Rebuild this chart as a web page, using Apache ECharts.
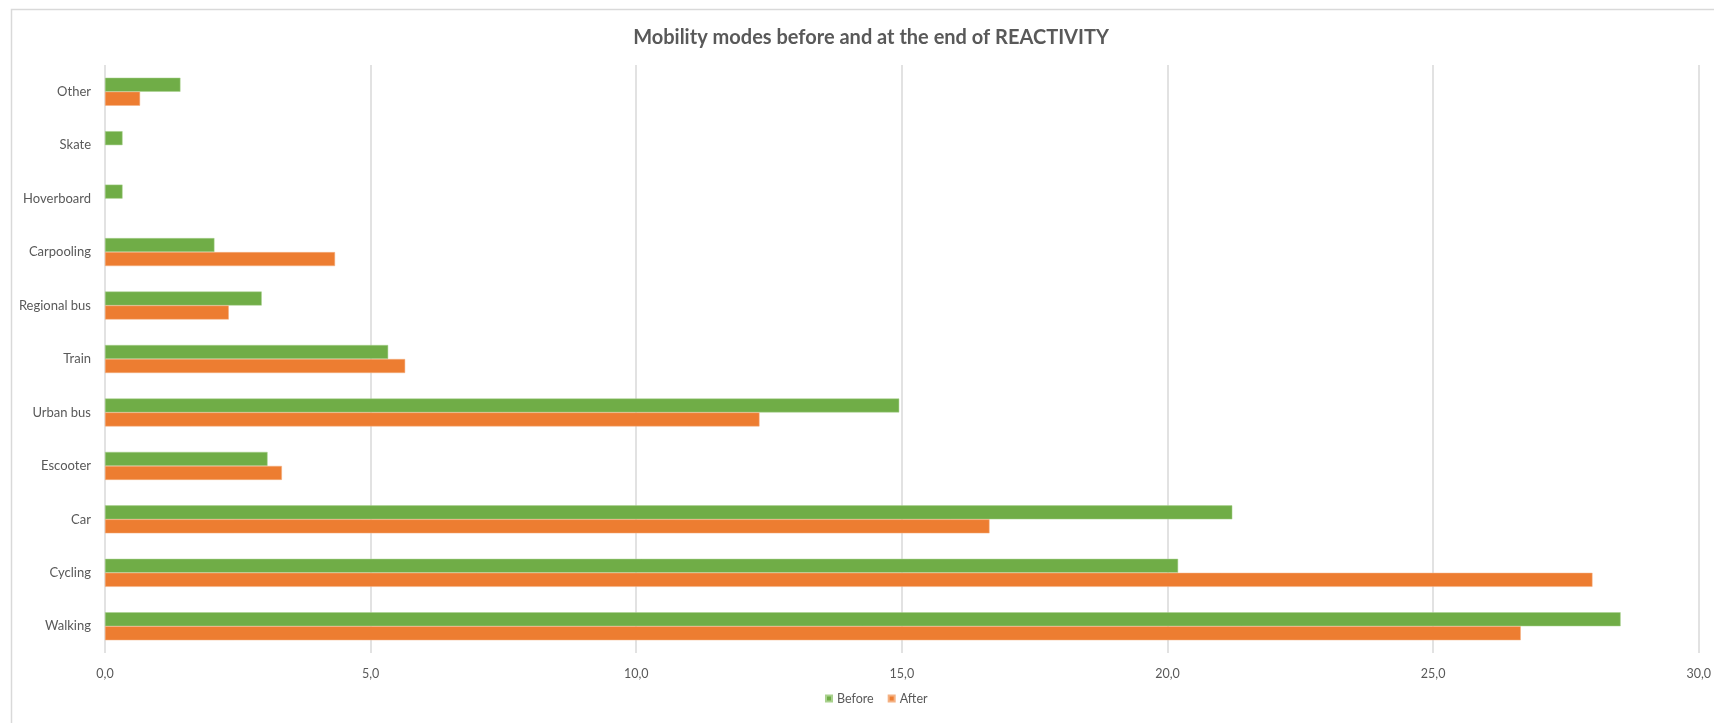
<!DOCTYPE html>
<html>
<head>
<meta charset="utf-8">
<script src="https://cdn.jsdelivr.net/npm/echarts@6/dist/echarts.min.js"></script>
<style>
html,body{margin:0;padding:0;background:#fff;}
#chart{width:1714px;height:723px;}
</style>
</head>
<body>
<div id="chart"></div>
<script>
const categories = ['Walking','Cycling','Car','Escooter','Urban bus','Train','Regional bus','Carpooling','Hoverboard','Skate','Other'];
const beforeValues = [28.53, 20.2, 21.22, 3.06, 14.95, 5.33, 2.95, 2.06, 0.33, 0.33, 1.42];
const afterValues  = [26.65, 28.0, 16.65, 3.33, 12.32, 5.65, 2.33, 4.33, null, null, 0.66];
const seriesNames = ['Before','After'];
const xTicks = {min: 0, max: 30, interval: 5};

const chart = echarts.init(document.getElementById('chart'));
const txt = '#595959';
chart.setOption({
  animation: false,
  textStyle: {fontFamily: 'Lato'},
  title: {
    text: 'Mobility modes before and at the end of REACTIVITY',
    left: 866, top: 23, textAlign: 'center',
    textStyle: {fontFamily: 'Lato', fontSize: 20, fontWeight: 'bold', color: txt}
  },
  graphic: [{
    type: 'rect', left: 9, top: 7, silent: true,
    shape: {width: 1720, height: 730},
    style: {fill: 'none', stroke: '#d9d9d9', lineWidth: 1.5}
  }],
  legend: {
    data: seriesNames,
    bottom: 13, left: 820,
    icon: 'rect', itemWidth: 6, itemHeight: 6, itemGap: 14,
    textStyle: {fontFamily: 'Lato', fontSize: 12.5, color: txt}
  },
  grid: {left: 105, right: 15, top: 65, bottom: 70, containLabel: false},
  xAxis: {
    type: 'value', min: xTicks.min, max: xTicks.max, interval: xTicks.interval,
    axisLine: {show: false}, axisTick: {show: false},
    splitLine: {lineStyle: {color: '#d9d9d9', width: 1.5}},
    axisLabel: {margin: 14, fontSize: 12.5, color: txt, fontFamily: 'Lato',
      formatter: v => v.toFixed(1).replace('.', ',')}
  },
  yAxis: {
    type: 'category', data: categories,
    axisLine: {show: false}, axisTick: {show: false},
    axisLabel: {margin: 14, fontSize: 13, color: txt, fontFamily: 'Lato'}
  },
  series: [
    {name: seriesNames[0], type: 'bar', data: beforeValues, barWidth: 14, barGap: '0%',
     itemStyle: {color: '#70ad47', borderColor: '#a9d18e', borderWidth: 0.5}},
    {name: seriesNames[1], type: 'bar', data: afterValues, barWidth: 14, barGap: '0%',
     itemStyle: {color: '#ed7d31', borderColor: '#f4b183', borderWidth: 0.5}}
  ]
});
</script>
</body>
</html>
